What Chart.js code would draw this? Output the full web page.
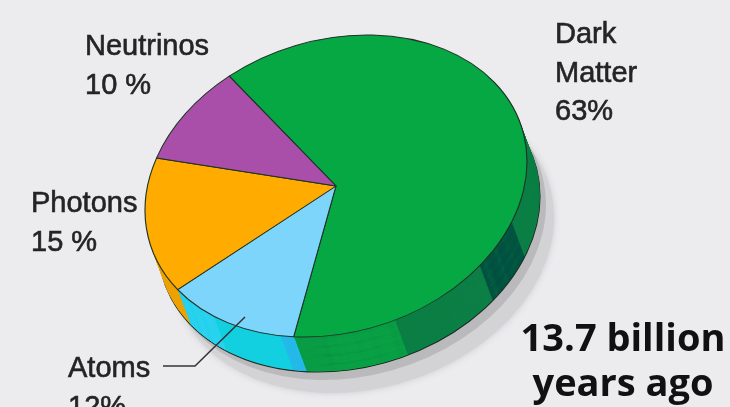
<!DOCTYPE html>
<html>
<head>
<meta charset="utf-8">
<script src="https://cdn.jsdelivr.net/npm/chart.js@4.4.1/dist/chart.umd.min.js"></script>
<style>
  html, body { margin: 0; padding: 0; background: #ececef; overflow: hidden; }
  #matter-chart { display: block; }
</style>
</head>
<body>
<canvas id="matter-chart" width="730" height="407"></canvas>
<script>
const labels = ['Dark Matter', 'Atoms', 'Photons', 'Neutrinos'];
const shares = [63, 12, 15, 10];
const pctGaps = ['', '', ' ', ' '];
const caption = ['13.7 billion', 'years ago'];

const topColors = ['#06a843', '#7dd5fb', '#ffab00', '#a94fa9'];
const wallColors = ['#0b7f45', '#14d0e0', '#eda200', '#8a3d8c'];
// lighter / darker strips along the rim (degrees, canvas angles)
const rimBands = [
  { slice: 0, from: 23, to: 41, color: '#004b40' },
  { slice: 0, from: 72, to: 180, color: '#0aa545' },
  { slice: 1, from: 95, to: 107, color: '#27b6ea' },
  { slice: 1, from: 130, to: 180, color: '#30d4f4' }
];

// tilted disc: semi-axis vectors in pixels, rim depth
const rim = { ux: 191, uy: -24.5, vy: 149 };
const depth = { dx: 13, dy: 35, steps: 48 };

// label text blocks: lines, left x, first baseline
const labelSpots = [
  { x: 555, y: 43, lines: ['Dark', 'Matter'] },
  { x: 68, y: 377, lines: ['Atoms'] },
  { x: 31, y: 212, lines: ['Photons'] },
  { x: 85, y: 55, lines: ['Neutrinos'] }
];

const rad = d => d * Math.PI / 180;

const tiltedPie = {
  id: 'tiltedPie',
  beforeDatasetsDraw(chart) {
    const ctx = chart.ctx;
    const arcs = chart.getDatasetMeta(0).data;
    const { x, y, outerRadius: R } = arcs[0];
    const tilt = (dx, dy) => {
      ctx.translate(x + dx, y + dy);
      ctx.transform(rim.ux / R, rim.uy / R, 0, rim.vy / R, 0, 0);
      ctx.translate(-x, -y);
    };
    const sector = (s, e, color) => {
      ctx.beginPath();
      ctx.moveTo(x, y);
      ctx.arc(x, y, R, s, e);
      ctx.closePath();
      ctx.fillStyle = color;
      ctx.fill();
    };

    // grey shadow ring under the disc
    ctx.save();
    ctx.shadowColor = 'rgba(200,200,204,0.9)';
    ctx.shadowBlur = 6;
    tilt(depth.dx + 14, depth.dy + 21);
    sector(0, Math.PI * 2, '#d3d3d6');
    ctx.restore();
    ctx.save();
    tilt(depth.dx + 6, depth.dy + 8);
    sector(0, Math.PI * 2, '#bababd');
    ctx.restore();

    // rim, stacked from the bottom up
    for (let k = depth.steps; k >= 1; k--) {
      ctx.save();
      tilt(depth.dx * k / depth.steps, depth.dy * k / depth.steps);
      arcs.forEach((arc, i) => {
        sector(arc.startAngle, arc.endAngle, wallColors[i]);
        rimBands.filter(b => b.slice === i).forEach(b => {
          const s = Math.max(arc.startAngle, rad(b.from));
          const e = Math.min(arc.endAngle, rad(b.to));
          if (e > s) sector(s, e, b.color);
        });
      });
      if (k === depth.steps) {
        ctx.beginPath();
        ctx.arc(x, y, R, 0, Math.PI * 2);
      }
      ctx.restore();
      if (k === depth.steps) {
        ctx.save();
        ctx.strokeStyle = '#1e2f26';
        ctx.lineWidth = 1.2;
        ctx.stroke();
        ctx.restore();
      }
    }

    // top face is drawn by the chart itself under the same tilt
    ctx.save();
    tilt(0, 0);
  },
  afterDatasetsDraw(chart) {
    chart.ctx.restore();
  },
  afterDraw(chart) {
    const ctx = chart.ctx;
    ctx.save();
    ctx.fillStyle = '#242424';
    ctx.strokeStyle = '#242424';
    ctx.lineWidth = 0.6;
    ctx.font = '29px "Liberation Sans", Arial, sans-serif';
    ctx.textBaseline = 'alphabetic';
    labelSpots.forEach((spot, i) => {
      const lines = spot.lines.concat(shares[i] + pctGaps[i] + '%');
      lines.forEach((t, j) => {
        ctx.fillText(t, spot.x, spot.y + j * 38.5);
        ctx.strokeText(t, spot.x, spot.y + j * 38.5);
      });
    });

    // leader line to the atoms slice
    ctx.strokeStyle = '#333';
    ctx.lineWidth = 1.5;
    ctx.beginPath();
    ctx.moveTo(163, 366);
    ctx.lineTo(195, 366);
    ctx.lineTo(245, 317);
    ctx.stroke();

    ctx.fillStyle = '#111';
    ctx.font = 'bold 38px "Open Sans", sans-serif';
    ctx.textAlign = 'center';
    caption.forEach((t, j) => ctx.fillText(t, 623, 351 + j * 45));
    ctx.restore();
  }
};

new Chart(document.getElementById('matter-chart'), {
  type: 'pie',
  data: {
    labels: labels,
    datasets: [{
      data: shares,
      backgroundColor: topColors,
      borderColor: '#1f3328',
      borderWidth: 1,
      hoverOffset: 0
    }]
  },
  options: {
    responsive: false,
    animation: false,
    rotation: -34,
    layout: { padding: { left: 166, right: 224, top: 16, bottom: 51 } },
    plugins: {
      legend: { display: false },
      tooltip: { enabled: false }
    }
  },
  plugins: [tiltedPie]
});
</script>
</body>
</html>
